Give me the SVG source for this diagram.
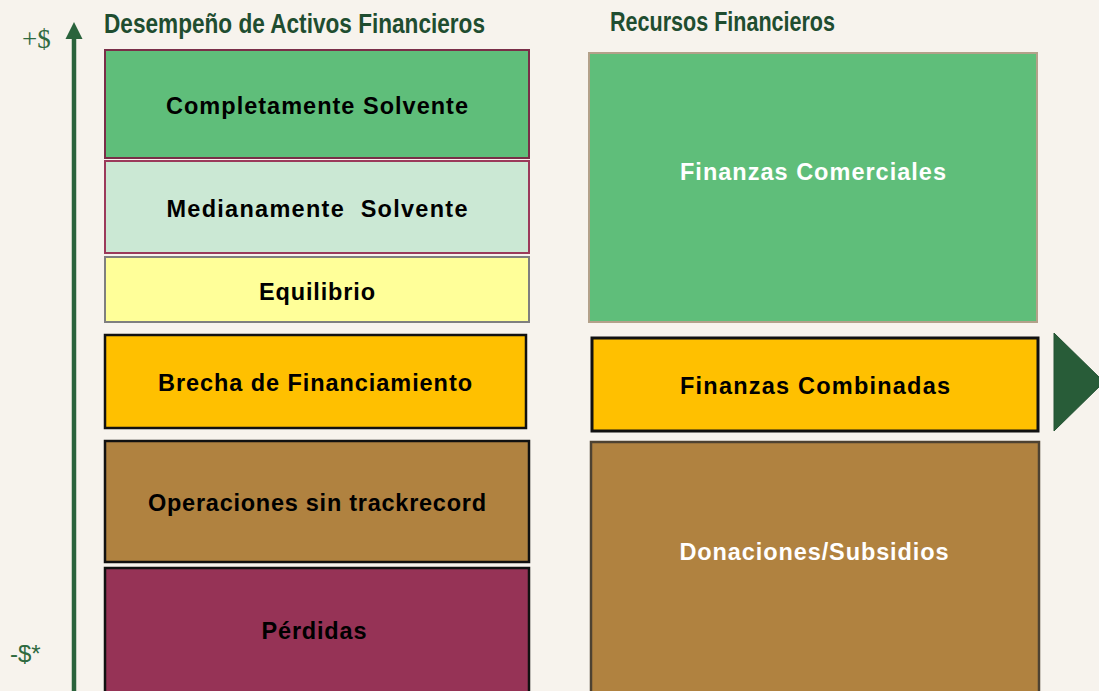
<svg xmlns="http://www.w3.org/2000/svg" width="1099" height="691" viewBox="0 0 1099 691">
<style>
.t{font-family:"Liberation Sans",Arial,sans-serif;font-weight:bold;font-size:23.5px;text-anchor:middle}
.h{font-family:"Liberation Sans",Arial,sans-serif;font-weight:bold;font-size:28px;fill:#1f4d30}
.dk{fill:#000}
.wh{fill:#fff}
</style>
<rect width="1099" height="691" fill="#f7f3ed"/>
<g id="axis">
<line x1="74" y1="36" x2="74" y2="691" stroke="#2a633c" stroke-width="4.5"/>
<polygon points="74,22 65.5,39 82.5,39" fill="#2a633c"/>
<text x="22" y="48" font-family="Liberation Serif,serif" font-size="27" fill="#2f6a40">+$</text>
<text x="10" y="662" font-family="Liberation Sans,sans-serif" font-size="24" fill="#2f6a40">-$*</text>
</g>
<text class="h" x="104" y="33" textLength="381" lengthAdjust="spacingAndGlyphs">Desempeño de Activos Financieros</text>
<text class="h" x="610" y="31" textLength="225" lengthAdjust="spacingAndGlyphs">Recursos Financieros</text>
<g id="completamente">
<rect x="105" y="50" width="424" height="108" fill="#5fbe7a" stroke="#7a2e48" stroke-width="2"/>
<text class="t dk" x="317" y="114" textLength="302" lengthAdjust="spacing">Completamente Solvente</text>
</g>
<g id="medianamente">
<rect x="105" y="161" width="424" height="92" fill="#cbe8d4" stroke="#9b3a5a" stroke-width="2"/>
<text class="t dk" x="317" y="217" textLength="301" lengthAdjust="spacing" xml:space="preserve">Medianamente  Solvente</text>
</g>
<g id="equilibrio">
<rect x="105" y="257" width="424" height="65" fill="#ffff99" stroke="#7f7f7f" stroke-width="2"/>
<text class="t dk" x="317" y="300" textLength="116" lengthAdjust="spacing">Equilibrio</text>
</g>
<g id="brecha">
<rect x="105" y="335" width="421" height="93" fill="#ffc000" stroke="#111" stroke-width="2.5"/>
<text class="t dk" x="315" y="391" textLength="314" lengthAdjust="spacing">Brecha de Financiamiento</text>
</g>
<g id="operaciones">
<rect x="105" y="441" width="424" height="121" fill="#b08240" stroke="#111" stroke-width="2.5"/>
<text class="t dk" x="317" y="511" textLength="338" lengthAdjust="spacing">Operaciones sin trackrecord</text>
</g>
<g id="perdidas">
<rect x="105" y="568" width="424" height="125" fill="#963356" stroke="#111" stroke-width="2.5"/>
<text class="t dk" x="314" y="639" textLength="105" lengthAdjust="spacing">Pérdidas</text>
</g>
<g id="comerciales">
<rect x="589" y="53" width="448" height="269" fill="#5fbe7a" stroke="#b3a18a" stroke-width="2"/>
<text class="t wh" x="813" y="180" textLength="266" lengthAdjust="spacing">Finanzas Comerciales</text>
</g>
<g id="combinadas">
<rect x="592" y="338" width="446" height="93" fill="#ffc000" stroke="#111" stroke-width="3"/>
<text class="t dk" x="815" y="394" textLength="270" lengthAdjust="spacing">Finanzas Combinadas</text>
</g>
<g id="donaciones">
<rect x="591" y="442" width="448" height="252" fill="#b08240" stroke="#4d4232" stroke-width="2.5"/>
<text class="t wh" x="814" y="560" textLength="269" lengthAdjust="spacing">Donaciones/Subsidios</text>
</g>
<g id="connectors">
<polygon points="1054,333 1104,382 1054,431" fill="#285c38" stroke="#235233" stroke-width="1"/>
</g>
</svg>
